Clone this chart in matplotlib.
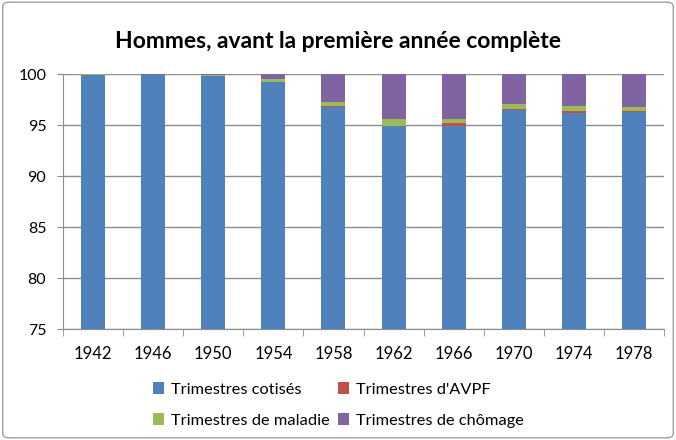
import numpy as np
import matplotlib.pyplot as plt
from matplotlib.patches import FancyBboxPatch

plt.rcParams['font.family'] = ['Lato', 'DejaVu Sans']

years = ['1942', '1946', '1950', '1954', '1958', '1962', '1966', '1970', '1974', '1978']
cotises = [99.9, 99.9, 99.8, 99.2, 96.8, 94.9, 94.95, 96.5, 96.2, 96.3]
avpf = [0.0, 0.0, 0.0, 0.05, 0.1, 0.05, 0.2, 0.1, 0.2, 0.1]
maladie = [0.1, 0.05, 0.1, 0.25, 0.35, 0.6, 0.45, 0.5, 0.5, 0.4]
chomage = [0.0, 0.05, 0.1, 0.5, 2.75, 4.45, 4.4, 2.9, 3.1, 3.2]

labels = ['Trimestres cotisés', "Trimestres d'AVPF",
          'Trimestres de maladie', 'Trimestres de chômage']
colors = ['#4F81BD', '#C0504D', '#9BBB59', '#8064A2']

fig = plt.figure(figsize=(6.76, 4.4), dpi=100)
ax = fig.add_axes([63/676, 111/440, 601/676, 255/440])

x = np.arange(len(years))
w = 0.4
bottom = np.zeros(len(years))
bars = []
for vals, c, lab in zip([cotises, avpf, maladie, chomage], colors, labels):
    b = ax.bar(x, vals, w, bottom=bottom, color=c, label=lab, zorder=3)
    bars.append(b)
    bottom += np.array(vals)

ax.set_ylim(75, 100)
ax.set_xlim(-0.5, len(years) - 0.5)
ax.set_yticks(range(75, 101, 5))
ax.yaxis.grid(True, color='#8c8c8c', linewidth=1, zorder=0)
ax.set_xticks(x)
ax.set_xticklabels(years, fontsize=12)
ax.set_xticks(np.arange(-0.5, len(years)), minor=True)
ax.tick_params(axis='x', which='major', length=0, pad=12)
ax.tick_params(axis='x', which='minor', length=5, color='#8c8c8c', direction='out')
ax.tick_params(axis='y', length=4, color='#8c8c8c', labelsize=11.5, pad=8)
for s in ['top', 'right']:
    ax.spines[s].set_visible(False)
for s in ['left', 'bottom']:
    ax.spines[s].set_color('#8c8c8c')

fig.text(0.5, 1 - 41/440, 'Hommes, avant la première année complète',
         ha='center', va='center', fontsize=16.5, fontweight='bold')

order = [0, 2, 1, 3]
fig.legend([bars[i] for i in order], [labels[i] for i in order],
           ncol=2, loc='center', bbox_to_anchor=(0.5, 1 - 405/440),
           frameon=False, fontsize=11.8, handlelength=0.7, handleheight=0.7,
           columnspacing=0.5, handletextpad=0.4, labelspacing=1.0)

border = FancyBboxPatch((0.004, 0.005), 0.992, 0.99, boxstyle='round,pad=0,rounding_size=0.01',
                        transform=fig.transFigure, fill=False, edgecolor='#a0a0a0', linewidth=1)
fig.patches.append(border)

fig.savefig('out.png', dpi=100)
